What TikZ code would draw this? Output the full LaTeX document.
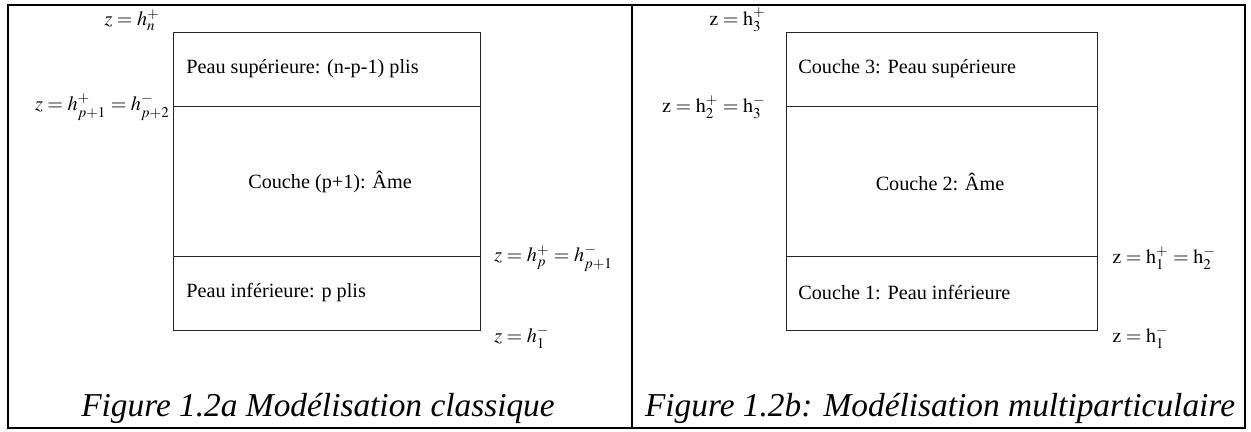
\documentclass[tikz,border=0pt]{standalone}
\usepackage{mathptmx}
\usepackage{fontspec}
\setmainfont{Liberation Serif}
\usetikzlibrary{positioning}

\begin{document}
\begin{tikzpicture}[
    x=0.02cm, y=-0.02cm,
    frame/.style={line width=1.1pt},
    layer/.style={line width=0.5pt, black!85},
    lbl/.style={font=\fontsize{11.5}{13}\selectfont, inner sep=0pt},
    zlbl/.style={font=\fontsize{11.5}{13}\selectfont, inner sep=0pt},
    caption/.style={font=\fontsize{19}{22}\selectfont\itshape, inner sep=0pt}
]
\useasboundingbox (0,0) rectangle (1251,432);

% Frame
\draw[frame] (8,5) rectangle (1245,428);
\draw[frame] (632,5) -- (632,428);

% Classical model
\draw[layer] (173,32) rectangle (480,330);
\draw[layer] (173,106) -- (480,106);
\draw[layer] (173,256) -- (480,256);

\node[lbl, anchor=west] (skin_top_a) at (186,69) {Peau supérieure: (n-p-1) plis};
\node[lbl] (core_a) at (330,182) {Couche (p+1): Âme};
\node[lbl, anchor=west] (skin_bot_a) at (186,293) {Peau inférieure: p plis};

\node[zlbl, anchor=east] (za_top) at (160,20) {$z = h_n^+$};
\node[zlbl, anchor=east] (za_up) at (170,107) {$z = h_{p+1}^+ = h_{p+2}^-$};
\node[zlbl, anchor=west] (za_low) at (494,258) {$z = h_p^+ = h_{p+1}^-$};
\node[zlbl, anchor=west] (za_bot) at (494,337) {$z = h_1^-$};

\node[caption] (cap_a) at (318,408) {Figure 1.2a Modélisation classique};

% Multiparticle model
\draw[layer] (786,32) rectangle (1097,330);
\draw[layer] (786,106) -- (1097,106);
\draw[layer] (786,256) -- (1097,256);

\node[lbl, anchor=west] (skin_top_b) at (798,69) {Couche 3: Peau supérieure};
\node[lbl] (core_b) at (940,182) {Couche 2: Âme};
\node[lbl, anchor=west] (skin_bot_b) at (798,293) {Couche 1: Peau inférieure};

\node[zlbl, anchor=east] (zb_top) at (766,20) {$\mathrm{z} = \mathrm{h}_3^+$};
\node[zlbl, anchor=east] (zb_up) at (766,107) {$\mathrm{z} = \mathrm{h}_2^+ = \mathrm{h}_3^-$};
\node[zlbl, anchor=west] (zb_low) at (1112,258) {$\mathrm{z} = \mathrm{h}_1^+ = \mathrm{h}_2^-$};
\node[zlbl, anchor=west] (zb_bot) at (1112,337) {$\mathrm{z} = \mathrm{h}_1^-$};

\node[caption] (cap_b) at (940,408) {Figure 1.2b: Modélisation multiparticulaire};

\end{tikzpicture}
\end{document}
